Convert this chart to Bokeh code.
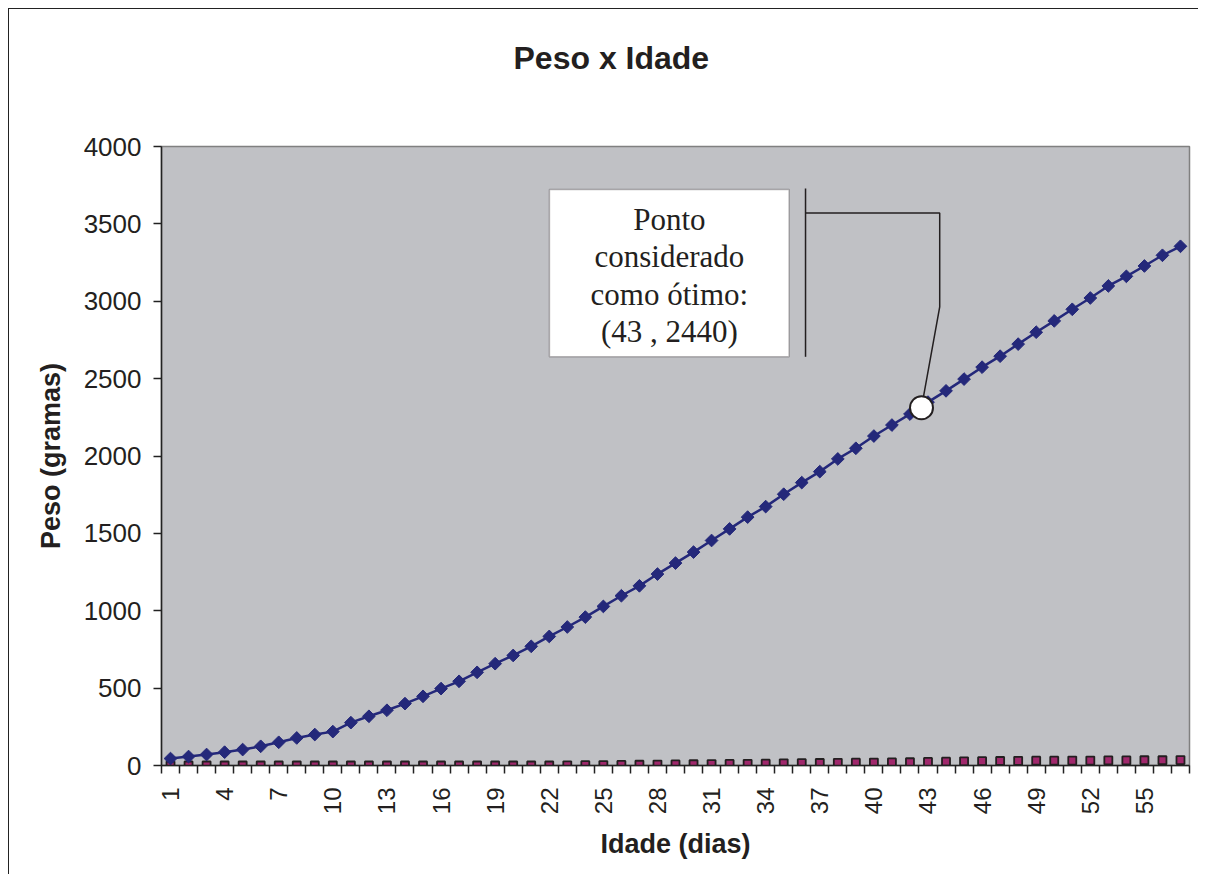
import numpy as np
from bokeh.plotting import figure
from bokeh.models import (Range1d, FixedTicker, BoxAnnotation, Label, LinearAxis, Title)
from bokeh.embed import file_html
from bokeh.resources import INLINE

# ---------------- data ----------------
idade = list(range(1, 58))
peso = [45, 58, 71, 86, 103, 124, 150, 178, 200, 219,
        277, 318, 357, 400, 447, 497, 544, 602, 658, 711,
        770, 834, 895, 959, 1028, 1097, 1161, 1237, 1308, 1379,
        1454, 1529, 1605, 1673, 1753, 1828, 1899, 1981, 2050, 2129,
        2200, 2271, 2348, 2421, 2497, 2574, 2645, 2723, 2800, 2873,
        2948, 3021, 3099, 3161, 3228, 3297, 3355]
serie2 = [0, 0, 0, 0, 0, 0, 0, 0, 0, 0,
          0, 0, 0, 0, 0, 0, 0, 0, 0, 0,
          0, 0, 1, 2, 3, 4, 5, 6, 7, 8,
          9, 10, 11, 12, 14, 15, 16, 17, 18, 19,
          20, 21, 23, 25, 27, 28, 29, 30, 31, 31,
          32, 32, 33, 33, 34, 34, 35]
x_tick_values = [1, 4, 7, 10, 13, 16, 19, 22, 25, 28, 31, 34, 37, 40, 43, 46, 49, 52, 55]
y_tick_values = [0, 500, 1000, 1500, 2000, 2500, 3000, 3500, 4000]

title_text = "Peso x Idade"
x_title = "Idade (dias)"
y_title = "Peso (gramas)"
callout_lines = ["Ponto", "considerado", "como ótimo:", "(43 , 2440)"]
ponto_otimo = (42.64, 2312)

# ---------------- figure ----------------
TXT = "#231F20"
p = figure(width=1190, height=866, output_backend="svg", toolbar_location=None,
           x_range=Range1d(0.5, 57.5), y_range=Range1d(0, 4000),
           min_border_left=152, min_border_right=10, min_border_top=137,
           min_border_bottom=110, x_axis_type=None, y_axis_type=None,
           styles={"border-left": "1.5px solid #222", "border-top": "1.5px solid #222",
                   "margin-left": "8px", "margin-top": "8px"})
p.background_fill_color = "#C0C1C5"
p.border_fill_color = "white"
p.outline_line_color = "#808080"
p.outline_line_width = 1.5
p.xgrid.visible = False
p.ygrid.visible = False
p.title.text = ""
p.title.visible = False

# invisible spacer between plot area and title (inner item of the top panel)
spacer = LinearAxis(ticker=FixedTicker(ticks=[29]))
spacer.axis_line_color = None
spacer.major_tick_line_color = None
spacer.minor_tick_line_color = None
spacer.major_tick_out = 66
spacer.major_tick_in = 0
spacer.minor_tick_out = 0
spacer.major_label_overrides = {29: ""}
spacer.major_label_text_alpha = 0
spacer.major_label_standoff = 0
spacer.axis_label_standoff = 0
p.add_layout(spacer, "above")

# chart title (outer item of the top panel)
chart_title = Title(text=title_text, text_font="Liberation Sans", text_font_size="32px",
                    text_font_style="bold", text_color=TXT, align="left",
                    offset=352, standoff=10)
p.add_layout(chart_title, "above")

# y axis
ya = LinearAxis(ticker=FixedTicker(ticks=y_tick_values))
ya.axis_label = y_title
ya.axis_label_text_font = "Liberation Sans"
ya.axis_label_text_font_size = "27px"
ya.axis_label_text_font_style = "bold"
ya.axis_label_text_color = TXT
ya.axis_label_standoff = 15
ya.major_label_text_font = "Liberation Sans"
ya.major_label_text_font_size = "26px"
ya.major_label_text_color = TXT
ya.major_label_standoff = 12
ya.major_tick_out = 8
ya.major_tick_in = 0
ya.minor_tick_out = 0
ya.minor_tick_in = 0
ya.axis_line_color = "#222"
ya.axis_line_width = 1.5
ya.major_tick_line_color = "#222"
ya.major_tick_line_width = 1.5
p.add_layout(ya, "left")

# x axis
minor = [i + 0.5 for i in range(0, 58)]
xa = LinearAxis(ticker=FixedTicker(ticks=x_tick_values, minor_ticks=minor))
xa.axis_label = x_title
xa.axis_label_text_font = "Liberation Sans"
xa.axis_label_text_font_size = "27px"
xa.axis_label_text_font_style = "bold"
xa.axis_label_text_color = TXT
xa.axis_label_standoff = 12
xa.major_label_text_font = "Liberation Sans"
xa.major_label_text_font_size = "24px"
xa.major_label_text_color = TXT
xa.major_label_orientation = np.pi / 2
xa.major_label_standoff = 14
xa.major_tick_out = 0
xa.major_tick_in = 0
xa.major_tick_line_color = None
xa.minor_tick_out = 8
xa.minor_tick_in = 0
xa.minor_tick_line_color = "#222"
xa.minor_tick_line_width = 1.5
xa.axis_line_color = "#222"
xa.axis_line_width = 1.5
p.add_layout(xa, "below")

# series 2 (pink squares)
p.scatter(idade, serie2, marker="square", size=8, fill_color="#A0286C",
          line_color="#231F20", line_width=1.8)

# series 1 (navy diamonds)
NAVY = "#24287A"
p.line(idade, peso, line_color=NAVY, line_width=2.5)
p.scatter(idade, peso, marker="square", angle=np.pi / 4, size=9,
          fill_color=NAVY, line_color=NAVY, line_width=1)

# ---------------- callout ----------------
box = BoxAnnotation(left=22.01, right=35.30, top=3722, bottom=2641,
                    fill_color="white", fill_alpha=1.0,
                    line_color="#231F20", line_width=1.5)
p.add_layout(box)
p.line([36.21, 36.21], [3729, 2641], line_color="#231F20", line_width=1.5)
p.line([36.21, 43.65, 43.65, ponto_otimo[0]], [3570, 3570, 2963, ponto_otimo[1]],
       line_color="#231F20", line_width=1.5)
p.scatter([ponto_otimo[0]], [ponto_otimo[1]], marker="circle", size=23,
          fill_color="white", line_color="#231F20", line_width=2)

for txt, yy in zip(callout_lines, [3529, 3287, 3045, 2806]):
    p.add_layout(Label(x=28.66, y=yy, text=txt, text_align="center",
                       text_baseline="middle", text_font="Liberation Serif",
                       text_font_size="31px", text_color=TXT))

open("out.html", "w").write(file_html(p, INLINE))
